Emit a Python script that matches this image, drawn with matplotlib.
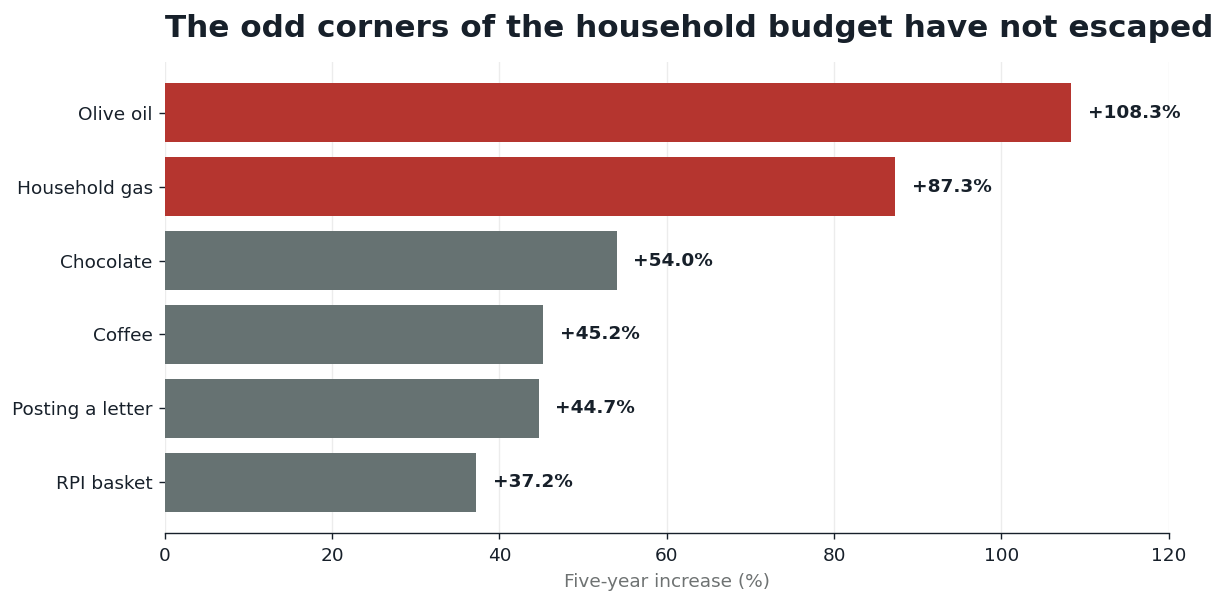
import matplotlib.pyplot as plt
import numpy as np

plt.rcParams['font.family'] = ['DejaVu Sans']

items = ['Olive oil', 'Household gas', 'Chocolate', 'Coffee', 'Posting a letter', 'RPI basket']
increase = [108.3, 87.3, 54.0, 45.2, 44.7, 37.2]
highlight = [True, True, False, False, False, False]

red = '#b5352f'
grey = '#667272'
dark = '#17202a'

fig, ax = plt.subplots(figsize=(12.29, 6.06), dpi=100)
fig.subplots_adjust(left=0.134, right=0.951, top=0.898, bottom=0.12)

ypos = np.arange(len(items))
colors = [red if h else grey for h in highlight]
ax.barh(ypos, increase, height=0.8, color=colors, zorder=2)
ax.invert_yaxis()
ax.set_yticks(ypos)
ax.set_yticklabels(items, fontsize=13.3, color=dark)

for y, v in zip(ypos, increase):
    ax.text(v + 2, y, '+{:.1f}%'.format(v), va='center', ha='left',
            fontsize=13.3, fontweight='bold', color=dark)

ax.set_xlim(0, 120)
ax.set_xticks([0, 20, 40, 60, 80, 100, 120])
ax.tick_params(axis='x', labelsize=13.3, colors=dark, length=4.3, width=1.0, pad=5.5)
ax.tick_params(axis='y', colors=dark, length=4.3, width=1.0, pad=4.3)
ax.set_xlabel('Five-year increase (%)', fontsize=13.3, color='#6e7272', labelpad=6)
ax.grid(axis='x', color='#ececec', linewidth=1.0, zorder=0)
ax.set_axisbelow(True)

for s in ['top', 'right', 'left']:
    ax.spines[s].set_visible(False)
ax.spines['bottom'].set_color(dark)
ax.spines['bottom'].set_linewidth(1.0)

ax.set_title('The odd corners of the household budget have not escaped',
             loc='left', fontsize=22.4, fontweight='bold', color=dark, pad=18)

fig.savefig('out.png', dpi=100)
